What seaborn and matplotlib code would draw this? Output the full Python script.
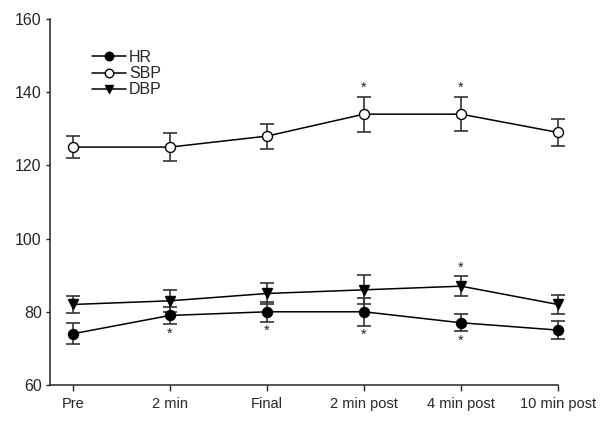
import numpy as np
import pandas as pd
import seaborn as sns
import matplotlib.pyplot as plt

# time points and group means / SE
times = ['Pre', '2 min', 'Final', '2 min post', '4 min post', '10 min post']
hr = [74, 79, 80, 80, 77, 75]
hr_se = [2.9, 2.4, 2.7, 3.8, 2.3, 2.4]
sbp = [125, 125, 128, 134, 134, 129]
sbp_se = [2.9, 3.8, 3.4, 4.8, 4.7, 3.7]
dbp = [82, 83, 85, 86, 87, 82]
dbp_se = [2.4, 3.0, 2.8, 4.0, 2.7, 2.6]

# significance markers (1 = asterisk); HR below, SBP/DBP above
hr_sig = [0, 1, 1, 1, 1, 0]
sbp_sig = [0, 0, 0, 1, 1, 0]
dbp_sig = [0, 0, 0, 0, 1, 0]

sns.set_style('ticks')
plt.rcParams['font.family'] = ['Liberation Sans', 'DejaVu Sans']

df = pd.DataFrame({'time': times * 3,
                   'value': hr + sbp + dbp,
                   'se': hr_se + sbp_se + dbp_se,
                   'var': ['HR'] * 6 + ['SBP'] * 6 + ['DBP'] * 6})
df['x'] = np.tile(np.arange(len(times)), 3)

fig = plt.figure(figsize=(6, 4.22), dpi=100)
ax = fig.add_axes([0.0833, 0.0877, 0.8467, 0.8673])

styles = {'HR': dict(marker='o', mfc='black', ms=7.2),
          'SBP': dict(marker='o', mfc='white', ms=7.2),
          'DBP': dict(marker='v', mfc='black', ms=7.2)}

for name in ['HR', 'SBP', 'DBP']:
    d = df[df['var'] == name]
    eb = ax.errorbar(d['x'], d['value'], yerr=d['se'], fmt='none', ecolor='#333333',
                     elinewidth=1.2, capsize=5, capthick=1.2, zorder=2)
    for art in eb.lines[1] + eb.lines[2]:
        art.set_clip_on(False)
    sns.lineplot(data=d, x='x', y='value', ax=ax, color='black', lw=1.1,
                 mec='black', mew=1, label=name, zorder=3, clip_on=False,
                 **styles[name])

# asterisks just beyond the error bar ends
for vals, ses, sig, side in [(hr, hr_se, hr_sig, -1), (sbp, sbp_se, sbp_sig, 1),
                             (dbp, dbp_se, dbp_sig, 1)]:
    for i, s in enumerate(sig):
        if s:
            off = 2.4 if side > 0 else 2.6
            y = vals[i] + side * (ses[i] + off)
            ax.text(i, y, '*', ha='center', va='center', fontsize=10.5)

ax.set_xlim(-0.237, 5)
ax.set_ylim(60, 160)
ax.set_yticks([60, 80, 100, 120, 140, 160])
ax.set_xticks(range(len(times)))
ax.set_xticklabels(times)
ax.tick_params(axis='x', length=4, width=1, labelsize=10.5, pad=5)
ax.tick_params(axis='y', length=3, width=1, labelsize=11.5, pad=3)
ax.set_xlabel('')
ax.set_ylabel('')
for sp in ['top', 'right']:
    ax.spines[sp].set_visible(False)
for sp in ['left', 'bottom']:
    ax.spines[sp].set_linewidth(1.1)

leg = ax.legend(loc='upper left', bbox_to_anchor=(0.055, 0.955), frameon=False,
                fontsize=11.5, handlelength=2.1, labelspacing=0.08,
                handletextpad=0.2, markerscale=0.85)

fig.savefig('out.png', dpi=100)
